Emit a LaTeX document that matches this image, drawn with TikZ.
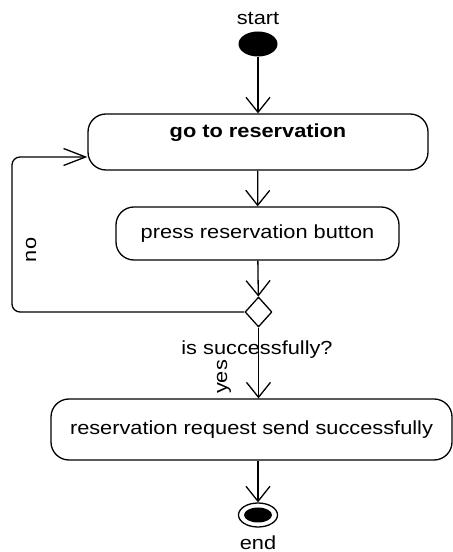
\documentclass[tikz,border=0pt]{standalone}
\usepackage{fontspec}
\setmainfont{Liberation Sans}[FakeStretch=1.15]
\usetikzlibrary{arrows.meta,shapes.geometric}

\tikzset{
	act/.style = {draw, rounded corners=18bp, line width=1.3bp, inner sep=0pt},
	flow/.style = {line width=1.3bp, -{Straight Barb[length=15bp,width=24bp,line width=1.3bp]}},
	lbl/.style = {inner sep=0pt, font=\fontsize{19}{22}\selectfont}
}

\begin{document}
\begin{tikzpicture}[x=1bp, y=1bp, line join=round]
		\useasboundingbox (0,0) rectangle (453,552);
		\node[lbl] (startlbl) at (258,534) {start};
		\node[ellipse, fill=black, minimum width=39bp, minimum height=25bp, inner sep=0pt] (start) at (258,508) {};
		\node[act, lbl, minimum width=340bp, minimum height=56bp, text depth=22bp, font=\fontsize{19}{22}\selectfont\bfseries] (goto) at (258,410) {go to reservation};
		\node[act, lbl, minimum width=283bp, minimum height=53bp] (press) at (257.5,318.5) {press reservation button};
		\node[diamond, draw, line width=1.3bp, minimum width=27bp, minimum height=30bp, inner sep=0pt] (dec) at (258.5,240) {};
		\node[lbl] (q) at (257,202) {is successfully?};
		\node[lbl, rotate=90] (yes) at (224,175) {yes};
		\node[lbl, rotate=90] (no) at (31,302) {no};
		\node[act, lbl, minimum width=401bp, minimum height=61bp] (send) at (251.5,122.5) {reservation request send successfully};
		\node[ellipse, draw, line width=1.3bp, minimum width=39bp, minimum height=24bp, inner sep=0pt] (end) at (258,37) {};
		\fill (end.center) ellipse (14bp and 7.5bp);
		\node[lbl] (endlbl) at (258,9.5) {end};
		% flow
		\draw[flow] (start) -- (goto);
		\draw[flow] (goto) -- (press);
		\draw[flow] (press) -- (dec);
		\draw[flow] (dec) -- (send.north -| dec);
		\draw[flow] (send.south -| end) -- (end);
		% back edge
		\coordinate (back) at (12,395);
		\draw[line width=1.3bp, rounded corners=8bp, -{Straight Barb[length=22bp,width=17bp,line width=1.3bp]}] (dec.west) -| (back) -- (back -| goto.west);
	\end{tikzpicture}
\end{document}
